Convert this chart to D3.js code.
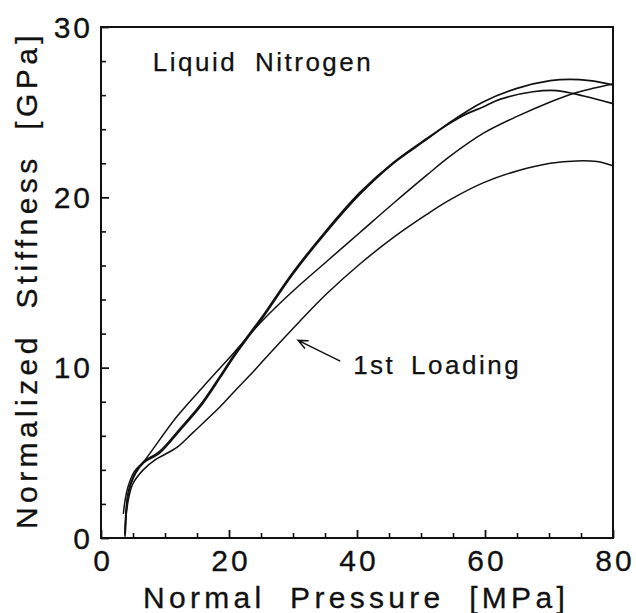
<!DOCTYPE html>
<html>
<head>
<meta charset="utf-8">
<script src="https://cdn.jsdelivr.net/npm/d3@7"></script>
<style>
  html, body { margin: 0; padding: 0; background: #fff; }
  svg { display: block; }
  text { font-family: "Liberation Sans", Arial, Helvetica, sans-serif; fill: #111; }
</style>
</head>
<body>
<svg id="chart" width="636" height="613"></svg>
<script>
// ---- data ----
const pressureA = [3.75,3.9,4.2,4.6,5.4,6.6,9.2,12.3,15.5,18.6,20.7,23.8,25.2,30,35.3,40.5,45.7,50.9,54.5,59.7,65,70.2,73.3,76.4,80];
const stiffnessA = [0.2,1.5,2.5,3.1,3.8,4.4,5.0,6.3,7.7,9.4,10.6,12.2,12.9,15.5,18.0,20.2,22.0,23.4,24.4,25.6,26.4,26.85,26.93,26.85,26.6];

const pressureB = [3.8,3.95,4.25,4.65,5.45,6.6,9.2,12.3,15.5,18.6,20.7,23.8,25.2,30,35.3,40.5,45.7,50.9,54.5,57.1,59.7,62.3,67.5,71.2,75.4,80];
const stiffnessB = [0.3,1.6,2.6,3.2,3.9,4.45,5.1,6.4,7.8,9.5,10.7,12.3,13.0,15.6,18.1,20.3,22.05,23.45,24.35,24.9,25.3,25.75,26.2,26.27,25.95,25.5];

const pressureC = [3.5,3.8,4.3,5.2,6.6,7.7,11.8,16.0,20.7,25.2,30,35.3,40.5,45.7,50.9,54.5,59.7,65,70.2,73.8,76.9,80];
const stiffnessC = [1.45,2.3,3.1,3.9,4.45,5.0,7.1,8.9,10.85,12.75,14.5,16.25,17.95,19.65,21.3,22.4,23.75,24.75,25.6,26.1,26.4,26.65];

// 1st Loading
const pressureD = [3.75,3.9,4.3,5.0,6.6,8.5,11.8,14.4,18.6,21.2,24,26.4,31,35.3,40.5,45.7,50.9,54.5,59.7,65,70.2,74.3,77.5,80];
const stiffnessD = [0.1,1.2,2.3,3.2,4.0,4.6,5.3,6.2,7.7,8.75,9.85,10.85,12.7,14.35,16.1,17.65,19.0,19.85,20.85,21.55,22.0,22.14,22.1,21.85];

const xMajorTicks = [0,20,40,60,80];
const xMinorTicks = [5,10,15,25,30,35,45,50,55,65,70,75];
const yMajorTicks = [0,10,20,30];
const yMinorTicks = [2,4,6,8,12,14,16,18,22,24,26,28];

const xTitle = "Normal Pressure [MPa]";
const yTitle = "Normalized Stiffness [GPa]";
const panelLabel = "Liquid Nitrogen";
const annotationLabel = "1st Loading";
const annotationTip = [30.8, 11.6];
const annotationTail = [37.3, 10.4];
const annotationTextPos = [39.4, 9.6];
const panelLabelPos = [8.1, 27.4];

// ---- drawing ----
const svg = d3.select("#chart");
const pL = 101, pR = 613, pT = 27, pB = 538;
const x = d3.scaleLinear().domain([0, 80]).range([pL, pR]);
const y = d3.scaleLinear().domain([0, 30]).range([pB, pT]);
const ink = "#111";

// minor ticks
svg.append("g").attr("transform", `translate(0,${pB})`)
  .call(d3.axisBottom(x).tickValues(xMinorTicks).tickSizeInner(-5).tickSizeOuter(0).tickFormat(""))
  .call(g => g.select(".domain").remove())
  .call(g => g.selectAll("line").attr("stroke", ink).attr("stroke-width", 1.6));
svg.append("g").attr("transform", `translate(${pL},0)`)
  .call(d3.axisLeft(y).tickValues(yMinorTicks).tickSizeInner(-5).tickSizeOuter(0).tickFormat(""))
  .call(g => g.select(".domain").remove())
  .call(g => g.selectAll("line").attr("stroke", ink).attr("stroke-width", 1.6));

// major ticks + labels
svg.append("g").attr("transform", `translate(0,${pB})`)
  .call(d3.axisBottom(x).tickValues(xMajorTicks).tickSizeInner(-8).tickSizeOuter(0).tickPadding(12).tickFormat(d3.format("d")))
  .call(g => g.select(".domain").remove())
  .call(g => g.selectAll("line").attr("stroke", ink).attr("stroke-width", 1.8))
  .call(g => g.selectAll("text")
      .attr("font-size", 30).attr("fill", ink)
      .style("font-family", '"Liberation Sans", Arial, sans-serif')
      .attr("letter-spacing", 3).attr("dx", 1.5)
      .attr("stroke", ink).attr("stroke-width", 0.3));
svg.append("g").attr("transform", `translate(${pL},0)`)
  .call(d3.axisLeft(y).tickValues(yMajorTicks).tickSizeInner(-8).tickSizeOuter(0).tickPadding(8).tickFormat(d3.format("d")))
  .call(g => g.select(".domain").remove())
  .call(g => g.selectAll("line").attr("stroke", ink).attr("stroke-width", 1.8))
  .call(g => g.selectAll("text")
      .attr("font-size", 30).attr("fill", ink)
      .style("font-family", '"Liberation Sans", Arial, sans-serif')
      .attr("letter-spacing", 3).attr("dy", "0.34em")
      .attr("stroke", ink).attr("stroke-width", 0.3));

// frame
svg.append("rect")
  .attr("x", pL).attr("y", pT)
  .attr("width", pR - pL).attr("height", pB - pT)
  .attr("fill", "none").attr("stroke", ink).attr("stroke-width", 2);

// curves
const line = d3.line().x(d => x(d[0])).y(d => y(d[1])).curve(d3.curveCatmullRom.alpha(0.5));
const series = [
  { p: pressureA, s: stiffnessA, w: 1.7 },
  { p: pressureB, s: stiffnessB, w: 1.7 },
  { p: pressureC, s: stiffnessC, w: 1.5 },
  { p: pressureD, s: stiffnessD, w: 1.5 }
];
series.forEach(sr => {
  svg.append("path")
    .datum(d3.zip(sr.p, sr.s))
    .attr("d", line)
    .attr("fill", "none")
    .attr("stroke", ink)
    .attr("stroke-width", sr.w)
    .attr("stroke-linejoin", "round")
    .attr("stroke-linecap", "round");
});

// panel label
svg.append("text")
  .attr("x", x(panelLabelPos[0])).attr("y", y(panelLabelPos[1]))
  .attr("font-size", 26).attr("letter-spacing", 2.5).attr("word-spacing", 8)
  .attr("stroke", ink).attr("stroke-width", 0.25)
  .text(panelLabel);

// annotation arrow
const tip = [x(annotationTip[0]), y(annotationTip[1])];
const tail = [x(annotationTail[0]), y(annotationTail[1])];
const ang = Math.atan2(tail[1] - tip[1], tail[0] - tip[0]);
const hl = 10, ha = 0.42;
const h1 = [tip[0] + hl * Math.cos(ang + ha), tip[1] + hl * Math.sin(ang + ha)];
const h2 = [tip[0] + hl * Math.cos(ang - ha), tip[1] + hl * Math.sin(ang - ha)];
svg.append("path")
  .attr("d", `M${tail[0]},${tail[1]}L${tip[0]},${tip[1]}M${h1[0]},${h1[1]}L${tip[0]},${tip[1]}L${h2[0]},${h2[1]}`)
  .attr("fill", "none").attr("stroke", ink).attr("stroke-width", 1.5).attr("stroke-linecap", "round");

svg.append("text")
  .attr("x", x(annotationTextPos[0])).attr("y", y(annotationTextPos[1]))
  .attr("font-size", 26).attr("letter-spacing", 2.5).attr("word-spacing", 6)
  .attr("stroke", ink).attr("stroke-width", 0.25)
  .text(annotationLabel);

// axis titles
svg.append("text")
  .attr("x", (pL + pR) / 2 - 1).attr("y", 608)
  .attr("text-anchor", "middle")
  .attr("font-size", 30).attr("letter-spacing", 4.3).attr("word-spacing", 12)
  .attr("stroke", ink).attr("stroke-width", 0.3)
  .text(xTitle);

svg.append("text")
  .attr("transform", `translate(37,280) rotate(-90)`)
  .attr("text-anchor", "middle")
  .attr("font-size", 30).attr("letter-spacing", 4.4).attr("word-spacing", 12)
  .attr("stroke", ink).attr("stroke-width", 0.3)
  .text(yTitle);
</script>
</body>
</html>
